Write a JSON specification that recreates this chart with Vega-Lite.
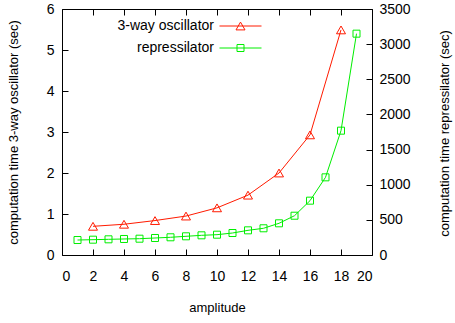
{
  "$schema": "https://vega.github.io/schema/vega-lite/v6.json",
  "width": 310,
  "height": 246,
  "autosize": {"type": "none"},
  "padding": {"left": 62, "top": 9, "right": 83, "bottom": 68},
  "config": {
    "font": "Liberation Sans",
    "view": {"stroke": "black", "strokeWidth": 1},
    "axis": {
      "grid": false,
      "domain": false,
      "tickColor": "black",
      "tickSize": -6,
      "tickWidth": 1,
      "labelColor": "black",
      "labelFontSize": 14,
      "labelFont": "Liberation Sans",
      "titleFont": "Liberation Sans",
      "titleFontSize": 13,
      "titleFontWeight": "normal",
      "titleColor": "black"
    }
  },
  "datasets": {
    "osc": [
      {"amplitude": 2, "time": 0.70, "series": "3-way oscillator"},
      {"amplitude": 4, "time": 0.75, "series": "3-way oscillator"},
      {"amplitude": 6, "time": 0.84, "series": "3-way oscillator"},
      {"amplitude": 8, "time": 0.95, "series": "3-way oscillator"},
      {"amplitude": 10, "time": 1.15, "series": "3-way oscillator"},
      {"amplitude": 12, "time": 1.46, "series": "3-way oscillator"},
      {"amplitude": 14, "time": 2.0, "series": "3-way oscillator"},
      {"amplitude": 16, "time": 2.93, "series": "3-way oscillator"},
      {"amplitude": 18, "time": 5.49, "series": "3-way oscillator"}
    ],
    "rep": [
      {"amplitude": 1, "time": 213, "series": "repressilator"},
      {"amplitude": 2, "time": 218, "series": "repressilator"},
      {"amplitude": 3, "time": 223, "series": "repressilator"},
      {"amplitude": 4, "time": 228, "series": "repressilator"},
      {"amplitude": 5, "time": 232, "series": "repressilator"},
      {"amplitude": 6, "time": 242, "series": "repressilator"},
      {"amplitude": 7, "time": 252, "series": "repressilator"},
      {"amplitude": 8, "time": 266, "series": "repressilator"},
      {"amplitude": 9, "time": 280, "series": "repressilator"},
      {"amplitude": 10, "time": 289, "series": "repressilator"},
      {"amplitude": 11, "time": 313, "series": "repressilator"},
      {"amplitude": 12, "time": 351, "series": "repressilator"},
      {"amplitude": 13, "time": 380, "series": "repressilator"},
      {"amplitude": 14, "time": 451, "series": "repressilator"},
      {"amplitude": 15, "time": 559, "series": "repressilator"},
      {"amplitude": 16, "time": 773, "series": "repressilator"},
      {"amplitude": 17, "time": 1105, "series": "repressilator"},
      {"amplitude": 18, "time": 1769, "series": "repressilator"},
      {"amplitude": 19, "time": 3149, "series": "repressilator"}
    ]
  },
  "encoding": {
    "x": {
      "field": "amplitude",
      "type": "quantitative",
      "scale": {"domain": [0, 20], "nice": false, "zero": false}
    },
    "color": {
      "field": "series",
      "type": "nominal",
      "scale": {"domain": ["3-way oscillator", "repressilator"], "range": ["#ff1a00", "#00ee00"]},
      "legend": {
        "title": null,
        "orient": "none",
        "legendX": 171.5,
        "legendY": 10,
        "padding": 0,
        "offset": 0,
        "symbolSize": 100,
        "symbolStrokeWidth": 1,
        "labelAlign": "right",
        "labelOffset": -33.5,
        "labelFontSize": 14,
        "labelFont": "Liberation Sans",
        "labelColor": "black",
        "rowPadding": 8,
        "encode": {
          "symbols": {
            "update": {
              "shape": {"signal": "datum.value === '3-way oscillator' ? 'M-4.2,0H4.2M0,-0.78L0.9,0.78L-0.9,0.78Z' : 'M-4.2,0H4.2M-0.7,-0.7H0.7V0.7H-0.7Z'"},
              "fill": {"value": "transparent"},
              "stroke": {"scale": "color", "field": "value"},
              "strokeWidth": {"value": 1}
            }
          }
        }
      }
    }
  },
  "layer": [
    {
      "data": {"name": "osc"},
      "encoding": {
        "x": {
          "field": "amplitude",
          "type": "quantitative",
          "axis": {"orient": "bottom", "values": [0, 2, 4, 6, 8, 10, 12, 14, 16, 18, 20], "title": "amplitude", "labelPadding": 20, "titlePadding": 18}
        },
        "y": {
          "field": "time",
          "type": "quantitative",
          "scale": {"domain": [0, 6], "nice": false},
          "axis": {
            "orient": "left",
            "values": [0, 1, 2, 3, 4, 5, 6],
            "title": "computation time 3-way oscillator (sec)",
            "labelPadding": 14,
            "titleAngle": -90,
            "titleX": -49,
            "titleY": 123,
            "titleAlign": "center",
            "titleBaseline": "middle"
          }
        }
      },
      "layer": [
        {"mark": {"type": "line", "strokeWidth": 1}},
        {"mark": {"type": "point", "shape": "triangle-up", "size": 81, "filled": false, "strokeWidth": 1, "opacity": 1}}
      ]
    },
    {
      "data": {"name": "rep"},
      "encoding": {
        "x": {
          "field": "amplitude",
          "type": "quantitative",
          "axis": {"orient": "top", "values": [0, 2, 4, 6, 8, 10, 12, 14, 16, 18, 20], "labels": false, "title": null}
        },
        "y": {
          "field": "time",
          "type": "quantitative",
          "scale": {"domain": [0, 3500], "nice": false},
          "axis": {
            "orient": "right",
            "values": [0, 500, 1000, 1500, 2000, 2500, 3000, 3500],
            "format": "d",
            "title": "computation time repressilator (sec)",
            "labelPadding": 13,
            "titleAngle": -90,
            "titleX": 72,
            "titleY": 124,
            "titleAlign": "center",
            "titleBaseline": "middle"
          }
        }
      },
      "layer": [
        {"mark": {"type": "line", "strokeWidth": 1}},
        {"mark": {"type": "point", "shape": "square", "size": 49, "filled": false, "strokeWidth": 1, "opacity": 1}}
      ]
    }
  ],
  "resolve": {"scale": {"y": "independent"}, "axis": {"x": "independent", "y": "independent"}}
}
